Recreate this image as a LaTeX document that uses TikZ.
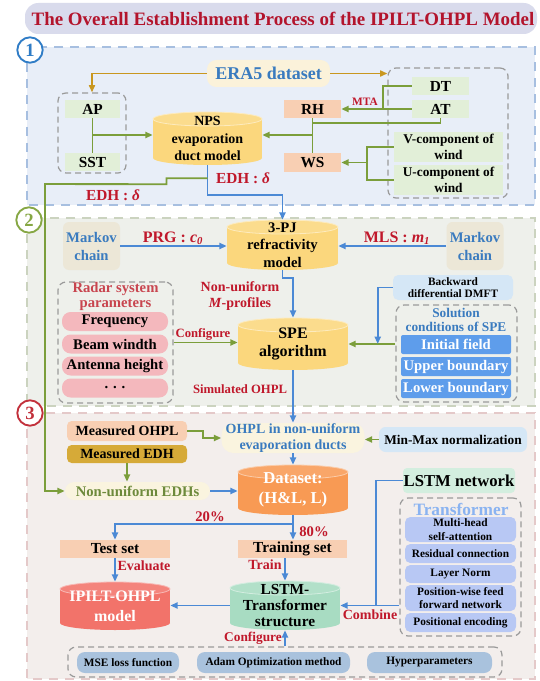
\documentclass[tikz,border=0pt]{standalone}
\usepackage{fontspec}
\setmainfont{Liberation Serif}
\usetikzlibrary{arrows.meta,calc}

\definecolor{titlebg}{HTML}{D9DBEC}
\definecolor{titlered}{HTML}{B3142C}
\definecolor{sOneFill}{HTML}{E8EEF8}
\definecolor{sOneLine}{HTML}{A7BFE0}
\definecolor{sTwoFill}{HTML}{EEF0EB}
\definecolor{sTwoLine}{HTML}{CBD3BF}
\definecolor{sThreeFill}{HTML}{F3EEEC}
\definecolor{sThreeLine}{HTML}{E4C9C9}
\definecolor{cOne}{HTML}{2F7CC6}
\definecolor{cTwo}{HTML}{86A744}
\definecolor{cThree}{HTML}{C2303B}
\definecolor{lgreen}{HTML}{E2EFD8}
\definecolor{salmon}{HTML}{F8CFB3}
\definecolor{cylyel}{HTML}{FBD77D}
\definecolor{era}{HTML}{FBF2DA}
\definecolor{blueT}{HTML}{3A7BBF}
\definecolor{redT}{HTML}{C0182B}
\definecolor{lineG}{HTML}{7B9E3B}
\definecolor{lineO}{HTML}{C9971F}
\definecolor{lineB}{HTML}{4B89D5}
\definecolor{markov}{HTML}{ECE7D7}
\definecolor{pinkI}{HTML}{F4B8BD}
\definecolor{radarT}{HTML}{C8454F}
\definecolor{ltblue}{HTML}{D5E7F6}
\definecolor{solI}{HTML}{5E9DEB}
\definecolor{cream}{HTML}{FAF4DF}
\definecolor{gold}{HTML}{D6AA38}
\definecolor{oliveT}{HTML}{6D8A3B}
\definecolor{dsor}{HTML}{F89A54}
\definecolor{lstmg}{HTML}{D3EEDF}
\definecolor{trT}{HTML}{8AB3F1}
\definecolor{trI}{HTML}{B8C8F4}
\definecolor{ipiltc}{HTML}{F2736A}
\definecolor{lstmtc}{HTML}{A8DCC2}
\definecolor{botI}{HTML}{A9C2DD}
\definecolor{grpline}{HTML}{9A9A9A}

\newcommand\fs[2]{\fontsize{#1}{#2}\selectfont}

\tikzset{
  base/.style={inner sep=0pt, font=\bfseries, align=center, text=black},
  sz/.style 2 args={minimum width=#1*0.75pt, minimum height=#2*0.75pt},
  grp/.style={draw=grpline, dash pattern=on 4.5pt off 3pt, line width=0.9pt, rounded corners=6pt, inner sep=0pt},
  lab/.style={base, text=redT},
  gl/.style={draw=lineG, line width=1.4pt},
  bl/.style={draw=lineB, line width=1.4pt},
  ol/.style={draw=lineO, line width=1.4pt},
  arr/.style={-{Triangle[length=5.5pt,width=4.5pt]}},
  secbox/.style={line width=1.6pt, dash pattern=on 7pt off 5pt},
  numc/.style={circle, fill=white, line width=1.4pt, minimum size=19pt, inner sep=0pt, font=\bfseries\fs{14}{15}},
}

% cylinder: name, cx, cy, w, h, colour, extra style, text
\newcommand\cyl[8]{%
  \fill[#6] ({#2-#4/2},{#3-#5/2+7}) rectangle ({#2+#4/2},{#3+#5/2-7});
  \fill[#6] (#2,{#3+#5/2-7}) ellipse [x radius=#4/2, y radius=7];
  \draw[fill=#6!88!white, draw=white!50!#6, line width=0.6pt] (#2,{#3-#5/2+7}) ellipse [x radius=#4/2, y radius=7];
  \node[base, sz={#4}{#5}, #7] (#1) at (#2,#3) {#8};
}

\begin{document}
\begin{tikzpicture}[x=0.75pt,y=-0.75pt]
\useasboundingbox (0,0) rectangle (539,681);
\fill[white] (0,0) rectangle (539,681);

% title
\fill[titlebg, rounded corners=10pt] (25,3) rectangle (537,34);
\node[base, text=titlered, font=\bfseries\fs{14.2}{16}] (title) at (283,18.5) {The Overall Establishment Process of the IPILT-OHPL Model};

% section boxes
\draw[secbox, draw=sOneLine, fill=sOneFill] (27,47) rectangle (535,205);
\draw[secbox, draw=sTwoLine, fill=sTwoFill] (27,218) rectangle (535,406);
\draw[secbox, draw=sThreeLine, fill=sThreeFill] (27,413) rectangle (535,679);

% ---------------- section 1 ----------------
\node[base, fill=era, rounded corners=7pt, sz={123}{27}, text=blueT, font=\bfseries\fs{13.5}{14}] (era) at (268.5,73.5) {ERA5 dataset};
\node[grp, sz={68}{80}] (apg) at (92,133) {};
\node[base, fill=lgreen, sz={55}{18}, font=\bfseries\fs{11.5}{12}] (ap) at (92.5,109) {AP};
\node[base, fill=lgreen, sz={55}{18}, font=\bfseries\fs{11.5}{12}] (sst) at (92.5,162) {SST};
\cyl{nps}{207.5}{138.5}{109}{53}{cylyel}{font=\bfseries\fs{10.5}{13}}{NPS\\evaporation\\duct model}
\node[base, fill=salmon, sz={57}{18}, font=\bfseries\fs{11.5}{12}] (rh) at (312.5,109) {RH};
\node[base, fill=salmon, sz={57}{19}, font=\bfseries\fs{11.5}{12}] (ws) at (312.5,162.5) {WS};
\node[grp, sz={120}{130}] (rg) at (448,133) {};
\node[base, fill=lgreen, sz={57}{18}, font=\bfseries\fs{11.5}{12}] (dt) at (440.5,86) {DT};
\node[base, fill=lgreen, sz={57}{18}, font=\bfseries\fs{11.5}{12}] (at) at (440.5,109) {AT};
\node[base, fill=lgreen, sz={109}{30}, font=\bfseries\fs{10}{11.5}] (vc) at (448.5,147) {V-component of\\wind};
\node[base, fill=lgreen, sz={109}{30}, font=\bfseries\fs{10}{11.5}] (uc) at (448.5,180) {U-component of\\wind};
\node[lab, font=\bfseries\fs{8.5}{9}] (mta) at (365,102) {MTA};
\node[lab, font=\bfseries\fs{11.5}{13}] (edha) at (243,178) {EDH : \textit{δ}};
\node[lab, font=\bfseries\fs{11.5}{13}] (edhb) at (113,195) {EDH : \textit{δ}};

% ---------------- section 2 ----------------
\node[base, fill=markov, rounded corners=4.5pt, sz={57}{48}, text=blueT, font=\bfseries\fs{11}{13.5}] (mka) at (91.5,246) {Markov\\chain};
\node[base, fill=markov, rounded corners=4.5pt, sz={57}{48}, text=blueT, font=\bfseries\fs{11}{13.5}] (mkb) at (475,246) {Markov\\chain};
\cyl{pj}{282.5}{245}{111}{50}{cylyel}{font=\bfseries\fs{11}{13}}{3-PJ\\refractivity\\model}
\node[lab, font=\bfseries\fs{12}{14}] (prg) at (173,238) {PRG : \textit{c\textsubscript{0}}};
\node[lab, font=\bfseries\fs{12}{14}] (mls) at (397,238) {MLS : \textit{m\textsubscript{1}}};
\node[lab, font=\bfseries\fs{10.5}{12}] (nonu) at (240,296) {Non-uniform\\\textit{M}-profiles};
\node[grp, sz={115}{121}] (radg) at (115.5,342.5) {};
\node[base, text=radarT, font=\bfseries\fs{11}{11.5}] (radt) at (115.5,296.5) {Radar system\\parameters};
\node[base, fill=pinkI, rounded corners=6.5pt, sz={106}{19}, font=\bfseries\fs{11}{12}] (freq) at (115,321.5) {Frequency};
\node[base, fill=pinkI, rounded corners=6.5pt, sz={106}{19}, font=\bfseries\fs{11}{12}] (beam) at (115,344) {Beam windth};
\node[base, fill=pinkI, rounded corners=6.5pt, sz={106}{19}, font=\bfseries\fs{11}{12}] (ant) at (115,366) {Antenna height};
\node[base, fill=pinkI, rounded corners=6.5pt, sz={106}{19}, font=\bfseries\fs{11}{12}] (dots) at (115,388) {. . .};
\node[lab, font=\bfseries\fs{9.5}{11}] (conf) at (203,334) {Configure};
\cyl{spe}{293}{344}{110}{52}{cylyel}{font=\bfseries\fs{12}{14}}{SPE\\algorithm}
\node[base, fill=ltblue, rounded corners=4pt, sz={120}{25}, font=\bfseries\fs{8.5}{9.5}] (back) at (453,287.5) {Backward\\differential DMFT};
\node[grp, sz={121}{97}] (solg) at (456.5,353.5) {};
\node[base, text=blueT, font=\bfseries\fs{10}{11}] (solt) at (456,320) {Solution\\conditions of SPE};
\node[base, fill=solI, rounded corners=1.5pt, sz={110}{19}, text=white, font=\bfseries\fs{11}{12}] (init) at (456,344.5) {Initial field};
\node[base, fill=solI, rounded corners=1.5pt, sz={110}{19}, text=white, font=\bfseries\fs{11}{12}] (upper) at (456,366.5) {Upper boundary};
\node[base, fill=solI, rounded corners=1.5pt, sz={110}{19}, text=white, font=\bfseries\fs{11}{12}] (lower) at (456,388.5) {Lower boundary};
\node[lab, font=\bfseries\fs{9.5}{11}] (simo) at (240,389) {Simulated OHPL};

% ---------------- section 3 ----------------
\node[base, fill=salmon, rounded corners=3.5pt, sz={120}{20}, font=\bfseries\fs{10.5}{12}] (mohpl) at (127,431) {Measured OHPL};
\node[base, fill=gold, rounded corners=3.5pt, sz={120}{18}, font=\bfseries\fs{10.5}{12}] (medh) at (127,454) {Measured EDH};
\node[base, fill=cream, rounded corners=9pt, sz={143}{30}, text=blueT, font=\bfseries\fs{10.5}{11.5}] (ohpl) at (293,438) {OHPL in non-uniform\\evaporation ducts};
\node[base, fill=ltblue, rounded corners=5pt, sz={148}{25}, font=\bfseries\fs{10}{11}] (minmax) at (453,439.5) {Min-Max normalization};
\node[base, fill=cream, rounded corners=7pt, sz={145}{18}, text=oliveT, font=\bfseries\fs{11}{12}] (nedh) at (137.5,491) {Non-uniform EDHs};
\cyl{ds}{293}{490}{110}{50}{dsor}{text=white, font=\bfseries\fs{12.5}{15}}{Dataset:\\(H\&L, L)}
\node[base, fill=lstmg, rounded corners=3pt, sz={112}{25}, font=\bfseries\fs{12.5}{13}] (lstm) at (459,480.5) {LSTM network};
\node[grp, sz={121}{138}] (trg) at (460.5,567) {};
\node[base, text=trT, font=\bfseries\fs{13}{14}] (trt) at (461,509) {Transformer};
\node[base, fill=trI, rounded corners=4pt, sz={111}{25}, font=\bfseries\fs{8.5}{10}] (mh) at (460.5,529.5) {Multi-head\\self-attention};
\node[base, fill=trI, rounded corners=4pt, sz={111}{19}, font=\bfseries\fs{8.5}{10}] (rc) at (460.5,553.5) {Residual connection};
\node[base, fill=trI, rounded corners=4pt, sz={111}{18}, font=\bfseries\fs{8.5}{10}] (ln) at (460.5,574) {Layer Norm};
\node[base, fill=trI, rounded corners=4pt, sz={111}{26}, font=\bfseries\fs{8.5}{10}] (pw) at (460.5,598) {Position-wise feed\\forward network};
\node[base, fill=trI, rounded corners=4pt, sz={111}{19}, font=\bfseries\fs{8.5}{10}] (pe) at (460.5,622.5) {Positional encoding};
\node[base, fill=salmon, sz={110}{18}, font=\bfseries\fs{11.5}{12}] (test) at (115,549) {Test set};
\node[base, fill=salmon, sz={109}{18}, font=\bfseries\fs{11.5}{12}] (train) at (292.5,549) {Training set};
\cyl{ipilt}{115}{606}{110}{48}{ipiltc}{text=white, font=\bfseries\fs{12}{15}}{IPILT-OHPL\\model}
\cyl{lstmt}{285}{605.5}{110}{49}{lstmtc}{font=\bfseries\fs{11.5}{12}}{LSTM-\\Transformer\\structure}
\node[grp, sz={434}{30}] (bg) at (285,662) {};
\node[base, fill=botI, rounded corners=6pt, sz={102}{21}, font=\bfseries\fs{8.5}{10}] (mse) at (128,662.5) {MSE loss function};
\node[base, fill=botI, rounded corners=6pt, sz={153}{21}, font=\bfseries\fs{8.5}{10}] (adam) at (273.5,662.5) {Adam Optimization method};
\node[base, fill=botI, rounded corners=6pt, sz={125}{21}, font=\bfseries\fs{8.5}{10}] (hyper) at (429.5,662.5) {Hyperparameters};
\node[lab, font=\bfseries\fs{11}{12}] (p20) at (210,517) {20\%};
\node[lab, font=\bfseries\fs{11}{12}] (p80) at (314,531.5) {80\%};
\node[lab, font=\bfseries\fs{10.5}{12}] (eval) at (144,566) {Evaluate};
\node[lab, font=\bfseries\fs{10.5}{12}] (trl) at (265,565) {Train};
\node[lab, font=\bfseries\fs{10.5}{12}] (comb) at (370,615) {Combine};
\node[lab, font=\bfseries\fs{10}{12}] (confb) at (253,638) {Configure};

% ---------------- connectors ----------------
\draw[ol,arr] (era.west) -| (apg.north);
\draw[ol,arr] (era.east) -- (era.east -| rg.west);
\draw[gl] (ap.south) -- (sst.north);
\coordinate (apj) at (92.5,135);
\draw[gl,arr] (apj) -- (apj -| nps.west);
\draw[gl] (dt.west) -- ++(-29,0) coordinate (dtj) -- (dtj |- at.west);
\draw[gl,arr] (at.west) -- (rh.east);
\draw[gl] (at.south) -- ++(0,5) -| (rh.south);
\draw[gl] (rh.south) -- (ws.north);
\coordinate (rwj) at (312.5,135);
\draw[gl,arr] (rwj) -- (rwj -| nps.east);
\draw[gl] (vc.west) -- ++(-27,0) coordinate (vj) |- (uc.west);
\draw[gl,arr] (vj |- ws.east) -- (ws.east);

\draw[bl,arr] (nps.south) -- ++(0,30) -| (pj.north);
\draw[gl,arr] ($(nps.south)+(0,13)$) -- ++(-41,0) -- ++(0,6) -- (45,184) |- (nedh.west);
\draw[bl,arr] (mka.east) -- (mka.east -| pj.west);
\draw[bl,arr] (mkb.west) -- (mkb.west -| pj.east);
\draw[bl,arr] (pj.south) -- ++(0,8) -| (spe.north);
\draw[gl,arr] (radg.east) -- (radg.east -| spe.west);
\draw[gl,arr] (solg.west |- spe.east) -- (spe.east);
\draw[bl,arr] (back.west) -- ++(-15,0) coordinate (bj) -- (bj |- spe.east);
\draw[bl,arr] (spe.south) -- (ohpl.north);

\draw[gl,arr] (mohpl.east) -- ++(16,0) |- (ohpl.west);
\draw[gl,arr] (minmax.west) -- (minmax.west -| ohpl.east);
\draw[bl,arr] (ohpl.south) -- (ds.north);
\draw[gl,arr] (medh.south) -- (medh.south |- nedh.north);
\draw[bl,arr] (nedh.east) -- (nedh.east -| ds.west);
\draw[bl] (lstm.west) -- ++(-27,0) coordinate (lj) -- (lj |- lstmt.east);
\draw[bl,arr] (trg.west |- lstmt.east) -- (lstmt.east);
\draw[bl] (ds.south) -- ++(0,9) coordinate (dj);
\draw[bl,arr] (dj) -| (test.north);
\draw[bl,arr] (dj) -- (dj |- train.north);
\draw[bl,arr] (test.south) -- (ipilt.north);
\draw[bl,arr] (lstmt.north |- train.south) -- (lstmt.north);
\draw[bl,arr] (lstmt.west) -- (lstmt.west -| ipilt.east);
\draw[bl,arr] (bg.north) -- (lstmt.south);

% section numbers
\node[numc, draw=cOne, text=cOne] (n1) at (30,50) {1};
\node[numc, draw=cTwo, text=cTwo] (n2) at (29,220) {2};
\node[numc, draw=cThree, text=cThree] (n3) at (30,413) {3};
\end{tikzpicture}
\end{document}
